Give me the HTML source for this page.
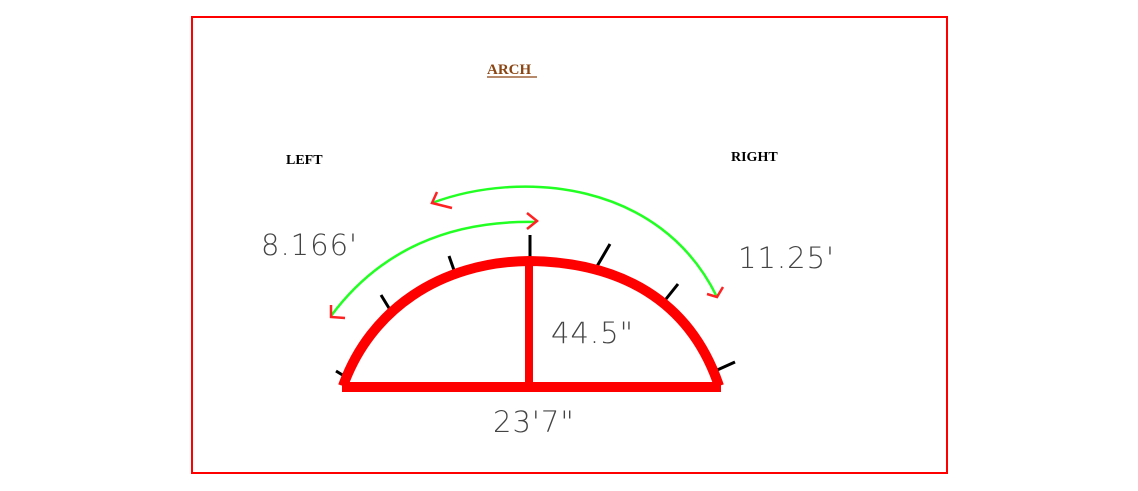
<!DOCTYPE html>
<html><head><meta charset="utf-8"><style>
body{margin:0;background:#fff;}
svg{display:block;}
.h{font-family:"DejaVu Sans","Liberation Sans",sans-serif;font-weight:200;fill:#444;font-size:29px;letter-spacing:1px;}
.s{font-family:"Liberation Serif",serif;font-weight:bold;font-size:14px;fill:#000;}
</style></head><body>
<svg width="1138" height="491" viewBox="0 0 1138 491">
<rect x="192" y="17" width="755" height="456" fill="none" stroke="#f00" stroke-width="2"/>
<text x="487" y="74" class="s" style="fill:#8B4513;font-size:15px">ARCH</text>
<line x1="487" y1="77" x2="537" y2="77" stroke="#8B4513" stroke-width="1.2"/>
<text x="286" y="164" class="s">LEFT</text>
<text x="731" y="161" class="s">RIGHT</text>
<g stroke="#000" stroke-width="3">
<line x1="336" y1="371" x2="349" y2="379"/><line x1="381" y1="295" x2="392" y2="313"/>
<line x1="449" y1="256" x2="455" y2="273"/><line x1="530" y1="235" x2="530" y2="258"/>
<line x1="610" y1="244" x2="596" y2="268"/><line x1="678" y1="284" x2="662" y2="304"/>
<line x1="735" y1="362" x2="715" y2="371"/></g>
<path d="M343,386 C370,310 440,262 529,261 C620,262 690,300 719,386" fill="none" stroke="#f00" stroke-width="10"/>
<line x1="342" y1="387" x2="721" y2="387" stroke="#f00" stroke-width="10"/>
<line x1="529" y1="262" x2="529" y2="387" stroke="#f00" stroke-width="8"/>
<path d="M331,316 C380,250 450,220 536,222" fill="none" stroke="#2f2" stroke-width="2.5"/>
<path d="M432,203 C520,170 660,180 717,297" fill="none" stroke="#2f2" stroke-width="2.5"/>
<g stroke="#f22" stroke-width="2.5" fill="none">
<path d="M331,305 L331,317 L345,318"/><path d="M527,213 L537,221 L527,229"/>
<path d="M437,192 L432,203 L452,208"/><path d="M723,287 L717,297 L707,294"/></g>
<text x="261" y="255" class="h">8.166'</text>
<text x="738" y="268" class="h">11.25'</text>
<text x="551" y="343" class="h">44.5"</text>
<text x="493" y="432" class="h">23'7"</text>
</svg>
</body></html>
